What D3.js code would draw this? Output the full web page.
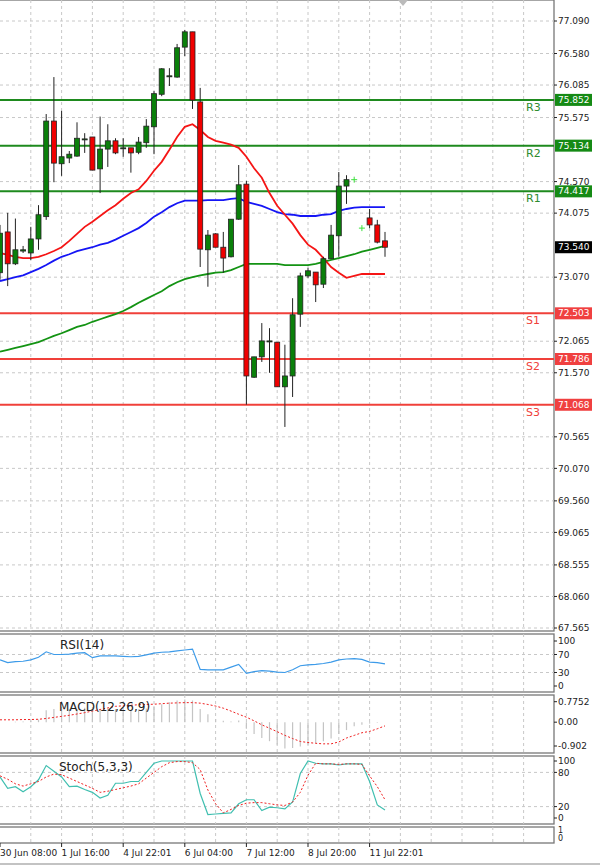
<!DOCTYPE html>
<html>
<head>
<meta charset="utf-8">
<script src="https://cdn.jsdelivr.net/npm/d3@7"></script>
<style>
  body { margin: 0; background: #fff; }
  text { font-family: Tahoma, "DejaVu Sans", sans-serif; }
</style>
</head>
<body>
<svg id="chart" width="600" height="868"></svg>
<script>
// candles: [open, high, low, close], null = no bar
const candles = [
  [73.14, 73.89, 73.03, 73.76], [73.78, 74.08, 72.93, 73.28], [73.28, 73.99, 73.26, 73.50],
  [73.48, 73.56, 73.45, 73.50], [73.45, 73.86, 73.34, 73.67], [73.67, 74.20, 73.50, 74.05],
  [74.02, 75.63, 73.97, 75.52], [75.52, 76.21, 74.56, 74.86], [74.85, 75.68, 74.66, 74.96],
  [74.94, 75.05, 74.86, 75.00], [74.97, 75.50, 74.96, 75.25], [75.24, 75.33, 75.02, 75.24],
  [75.27, 75.27, 74.75, 74.75], [74.77, 75.59, 74.39, 75.08], [75.08, 75.47, 74.80, 75.21],
  [75.21, 75.25, 75.00, 75.02], [75.10, 75.25, 74.96, 75.10], [75.10, 75.10, 74.71, 75.02],
  [75.03, 75.27, 75.00, 75.19], [75.18, 75.55, 75.10, 75.44], [75.43, 75.99, 75.00, 75.95],
  [75.94, 76.35, 75.91, 76.34], [76.23, 76.35, 76.07, 76.23], [76.21, 76.73, 76.20, 76.67],
  [76.68, 76.95, 76.54, 76.92], [76.92, 76.92, 75.71, 75.85], [75.82, 76.04, 73.23, 73.51],
  [73.50, 73.81, 72.92, 73.73], [73.75, 73.76, 73.54, 73.54], [73.54, 73.78, 73.14, 73.37],
  [73.39, 73.98, 73.38, 73.98], [73.98, 74.83, 73.97, 74.52], [74.53, 74.58, 71.07, 71.52],
  [71.50, 71.82, 71.49, 71.82], [71.82, 72.35, 71.74, 72.07], [72.06, 72.27, 71.57, 72.07],
  [72.05, 72.05, 71.35, 71.35], [71.35, 72.01, 70.72, 71.52], [71.52, 72.74, 71.19, 72.48],
  [72.49, 73.14, 72.29, 73.09], [73.09, 73.22, 73.06, 73.17], [73.15, 73.15, 72.68, 72.95],
  [72.96, 73.39, 72.90, 73.36], [73.36, 73.89, 73.36, 73.73], [73.72, 74.72, 73.39, 74.50],
  [74.50, 74.67, 74.22, 74.60], null, null,
  [74.00, 74.14, 73.84, 73.89], [73.89, 73.97, 73.60, 73.62], [73.64, 73.78, 73.39, 73.54]
];
const crosses = [[46, 74.60], [47, 73.84]];

const maRed = [73.45,73.42,73.39,73.37,73.37,73.39,73.43,73.48,73.54,73.64,73.75,73.86,73.94,74.03,74.12,74.20,74.30,74.39,74.45,74.58,74.74,74.88,75.07,75.27,75.43,75.47,75.38,75.27,75.21,75.18,75.15,75.10,74.96,74.78,74.63,74.39,74.19,74.05,73.91,73.73,73.58,73.50,73.37,73.23,73.14,73.06,73.09,73.12,73.12,73.12,73.12];
const maBlue = [73.01,73.04,73.07,73.10,73.15,73.20,73.26,73.33,73.39,73.43,73.48,73.51,73.54,73.58,73.61,73.66,73.72,73.78,73.84,73.92,74.02,74.09,74.17,74.23,74.27,74.27,74.27,74.28,74.28,74.28,74.30,74.31,74.25,74.22,74.19,74.14,74.09,74.06,74.05,74.03,74.03,74.03,74.05,74.06,74.11,74.14,74.16,74.17,74.17,74.17,74.17];
const maGreen = [71.90,71.93,71.96,71.99,72.02,72.05,72.10,72.15,72.19,72.24,72.29,72.32,72.37,72.41,72.45,72.49,72.54,72.60,72.67,72.73,72.79,72.85,72.93,72.99,73.04,73.07,73.10,73.12,73.14,73.15,73.18,73.23,73.28,73.28,73.28,73.28,73.28,73.26,73.26,73.26,73.26,73.28,73.31,73.34,73.37,73.40,73.43,73.47,73.50,73.53,73.56];

const levelNames = ["R3", "R2", "R1", "S1", "S2", "S3"];
const levelValues = [75.852, 75.134, 74.417, 72.503, 71.786, 71.068];
const lastPrice = 73.540;
const priceTicks = [77.090,76.580,76.085,75.575,74.570,74.075,73.070,72.065,71.570,70.565,70.070,69.560,69.065,68.555,68.060,67.565];

const rsi = [58,52,54,55,58,64,76,70,70,71,73,74,63,67,67,67,66,65,66,69,73,75,76,78,80,82,37,36,36,36,42,48,28,32,34,33,31,30,36,45,47,48,50,53,58,60,61,59,53,52,49];
const macdHist = [0,0,0.02,0.03,0.05,0.1,0.45,0.5,0.5,0.5,0.5,0.55,0.5,0.5,0.5,0.5,0.48,0.47,0.48,0.52,0.6,0.68,0.75,0.82,0.86,0.82,0.5,0.3,0.12,0.05,0.03,0.06,-0.25,-0.45,-0.6,-0.72,-0.85,-1.0,-0.98,-0.92,-0.85,-0.8,-0.72,-0.62,-0.45,-0.3,-0.15,-0.1,-0.05,-0.02,0];
const macdSignal = [0.09,0.09,0.09,0.1,0.1,0.11,0.14,0.18,0.22,0.26,0.31,0.36,0.42,0.48,0.54,0.6,0.62,0.64,0.66,0.67,0.68,0.7,0.72,0.73,0.74,0.74,0.72,0.67,0.61,0.53,0.42,0.3,0.19,0.05,-0.1,-0.23,-0.36,-0.5,-0.62,-0.73,-0.77,-0.8,-0.82,-0.82,-0.75,-0.6,-0.5,-0.4,-0.35,-0.25,-0.14];
const stochMain = [72,52,55,46,55,67,92,82,72,55,56,50,45,35,40,61,61,64,64,80,96,100,100,100,100,100,43,6,7,8,9,25,32,32,13,19,18,16,28,78,100,96,95,95,93,95,95,95,64,23,14];
const stochSignal = [74,68,60,56,60,64,72,77,76,70,64,58,52,45,47,50,53,56,60,70,80,90,97,99,99,97,85,49,25,9,15,22,26,27,27,25,23,22,28,45,75,96,95,95,94,95,95,94,74,55,32];

const timeLabels = ["30 Jun 08:00", "1 Jul 16:00", "4 Jul 22:01", "6 Jul 04:00", "7 Jul 12:00", "8 Jul 20:00", "11 Jul 22:01"];

const svg = d3.select("#chart");
const plotRight = 554;
const x = d3.scaleLinear().domain([0, 50]).range([0, 385]);
const gridXs = d3.range(1, 18).map(k => x(4 * k));

const panels = {
  price: [0, 631],
  rsi: [634, 692],
  macd: [695, 753],
  stoch: [756, 824],
  empty: [827, 843]
};

// frames
Object.values(panels).forEach(([t, b]) => {
  svg.append("rect").attr("x", -2).attr("y", t).attr("width", plotRight + 2).attr("height", b - t)
    .attr("fill", "none").attr("stroke", "#777").attr("stroke-width", 1.3);
});
svg.append("rect").attr("x", -2).attr("y", 864).attr("width", 604).attr("height", 6)
  .attr("fill", "none").attr("stroke", "#888");

function vgrid(t, b) {
  svg.append("g").selectAll("line").data(gridXs).join("line")
    .attr("x1", d => d).attr("x2", d => d).attr("y1", t).attr("y2", b)
    .attr("stroke", "#c8c8c8").attr("stroke-dasharray", "3,3");
}
function hgrid(ys) {
  svg.append("g").selectAll("line").data(ys).join("line")
    .attr("x1", 0).attr("x2", plotRight).attr("y1", d => d).attr("y2", d => d)
    .attr("stroke", "#c8c8c8").attr("stroke-dasharray", "3,3");
}
function rightLabels(scale, vals, fmt) {
  svg.append("g").selectAll("text").data(vals).join("text")
    .attr("x", 558).attr("y", d => scale(d)).attr("dy", "0.35em")
    .attr("font-size", 9).attr("fill", "#222").text(fmt);
  svg.append("g").selectAll("line").data(vals).join("line")
    .attr("x1", plotRight).attr("x2", plotRight + 3).attr("y1", d => scale(d)).attr("y2", d => scale(d))
    .attr("stroke", "#222");
}

// ---- price panel
const y = d3.scaleLinear().domain([67.565, 77.09]).range([628, 21]);
vgrid(0, 631);
hgrid(priceTicks.map(y));
rightLabels(y, priceTicks, d => d.toFixed(3));

const levColor = (i) => i < 3 ? "#1e8a1e" : "#f0403a";
svg.append("g").selectAll("line").data(levelValues).join("line")
  .attr("x1", 0).attr("x2", plotRight).attr("y1", d => y(d)).attr("y2", d => y(d))
  .attr("stroke", (d, i) => levColor(i)).attr("stroke-width", 2);
svg.append("g").selectAll("text").data(levelNames).join("text")
  .attr("x", 526).attr("y", (d, i) => y(levelValues[i]) + 7).attr("dy", "0.35em")
  .attr("font-size", 11).attr("fill", (d, i) => i < 3 ? "#2e8b2e" : "#f0403a").text(d => d);

const line = d3.line().x((d, i) => x(i)).y(d => y(d));
[[maGreen, "#139313"], [maBlue, "#1515f5"], [maRed, "#f51515"]].forEach(([data, c]) => {
  svg.append("path").datum(data).attr("d", line).attr("fill", "none").attr("stroke", c).attr("stroke-width", 1.8);
});

const cd = candles.map((c, i) => ({ c, i })).filter(d => d.c);
const cg = svg.append("g");
cg.selectAll("line").data(cd).join("line")
  .attr("x1", d => x(d.i)).attr("x2", d => x(d.i))
  .attr("y1", d => y(d.c[1])).attr("y2", d => y(d.c[2]))
  .attr("stroke", "#222").attr("stroke-width", 1);
cg.selectAll("rect").data(cd).join("rect")
  .attr("x", d => x(d.i) - 2.5).attr("width", 5)
  .attr("y", d => y(Math.max(d.c[0], d.c[3])))
  .attr("height", d => Math.max(1, Math.abs(y(d.c[0]) - y(d.c[3]))))
  .attr("fill", d => d.c[3] >= d.c[0] ? "#0a800a" : "#f00000")
  .attr("stroke", "#222").attr("stroke-width", 0.8);
svg.append("g").selectAll("path").data(crosses).join("path")
  .attr("d", d => `M${x(d[0]) - 3},${y(d[1])}h6M${x(d[0])},${y(d[1]) - 3}v6`)
  .attr("stroke", "#3ce03c").attr("stroke-width", 1);

// right side tags
const tags = levelValues.map((v, i) => ({ v, bg: i < 3 ? "#158a15" : "#f04040", fg: "#fff" }));
tags.push({ v: lastPrice, bg: "#000", fg: "#fff" });
const tg = svg.append("g").selectAll("g").data(tags).join("g")
  .attr("transform", d => `translate(555,${y(d.v)})`);
tg.append("rect").attr("x", 0).attr("y", -6).attr("width", 37).attr("height", 12).attr("fill", d => d.bg);
tg.append("text").attr("x", 3).attr("dy", "0.35em").attr("font-size", 9).attr("fill", d => d.fg)
  .text(d => d.v.toFixed(3));

svg.append("path").attr("d", "M398,0 L408,0 L403,6 Z").attr("fill", "#bbb");

// ---- RSI
const yr = d3.scaleLinear().domain([0, 100]).range([686, 641]);
vgrid(634, 692);
hgrid([yr(70), yr(30)]);
rightLabels(yr, [100, 70, 30, 0], d => d);
svg.append("path").datum(rsi).attr("d", d3.line().x((d, i) => x(i)).y(d => yr(d)))
  .attr("fill", "none").attr("stroke", "#3d9be9").attr("stroke-width", 1.2);
svg.append("text").attr("x", 60).attr("y", 645).attr("dy", "0.35em").attr("font-size", 12).attr("fill", "#222").text("RSI(14)");

// ---- MACD
const ym = d3.scaleLinear().domain([-0.902, 0.7752]).range([746, 701.7]);
vgrid(695, 753);
rightLabels(ym, [0.7752, 0, -0.902], d => d === 0 ? "0.00" : String(d));
svg.append("g").selectAll("line").data(macdHist).join("line")
  .attr("x1", (d, i) => x(i)).attr("x2", (d, i) => x(i))
  .attr("y1", ym(0)).attr("y2", d => ym(d))
  .attr("stroke", "#c4c4c4").attr("stroke-width", 1.2);
svg.append("path").datum(macdSignal).attr("d", d3.line().x((d, i) => x(i)).y(d => ym(d)))
  .attr("fill", "none").attr("stroke", "#f02020").attr("stroke-width", 1).attr("stroke-dasharray", "2,2");
svg.append("text").attr("x", 59).attr("y", 707).attr("dy", "0.35em").attr("font-size", 12).attr("fill", "#222").text("MACD(12,26,9)");

// ---- Stochastic
const ys = d3.scaleLinear().domain([0, 100]).range([818, 761]);
vgrid(756, 824);
hgrid([ys(80), ys(20)]);
rightLabels(ys, [100, 80, 20, 0], d => d);
svg.append("path").datum(stochMain).attr("d", d3.line().x((d, i) => x(i)).y(d => ys(d)))
  .attr("fill", "none").attr("stroke", "#40bfb0").attr("stroke-width", 1.2);
svg.append("path").datum(stochSignal).attr("d", d3.line().x((d, i) => x(i)).y(d => ys(d)))
  .attr("fill", "none").attr("stroke", "#f02020").attr("stroke-width", 1).attr("stroke-dasharray", "2,2");
svg.append("text").attr("x", 59).attr("y", 767).attr("dy", "0.35em").attr("font-size", 12).attr("fill", "#222").text("Stoch(5,3,3)");

// ---- empty panel + time axis
vgrid(827, 843);
svg.append("text").attr("x", 558).attr("y", 833).attr("font-size", 8).attr("fill", "#222").text("1");
svg.append("text").attr("x", 558).attr("y", 841).attr("font-size", 8).attr("fill", "#222").text("0");
const tg2 = svg.append("g").selectAll("g").data(timeLabels).join("g")
  .attr("transform", (d, i) => `translate(${x(i * 8)},843)`);
tg2.append("line").attr("y1", 0).attr("y2", 4).attr("stroke", "#222");
tg2.append("text").attr("x", 0).attr("y", 13).attr("font-size", 9).attr("fill", "#222").text(d => d);
</script>
</body>
</html>
